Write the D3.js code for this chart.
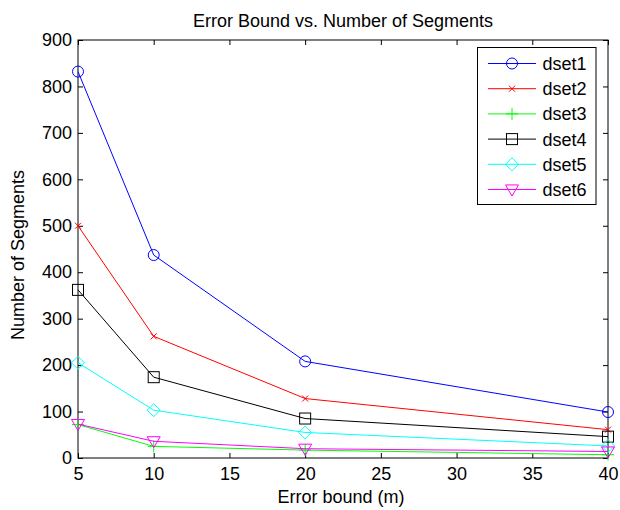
<!DOCTYPE html>
<html>
<head>
<meta charset="utf-8">
<style>
  body { margin: 0; background: #fff; }
  svg { font-family: Arial, 'Liberation Sans', sans-serif; }
  .axis text { font-size: 18px; fill: #000; }
  .axis .domain { display: none; }
  .axis line { stroke: #000; }
</style>
</head>
<body>
<svg width="620" height="510"></svg>
<script src="https://d3js.org/d3.v7.min.js"></script>
<script>
const errorBounds = [5, 10, 20, 40];
const seriesNames = ["dset1", "dset2", "dset3", "dset4", "dset5", "dset6"];
const dset1 = [832, 437, 208, 99];
const dset2 = [500, 262, 128, 61];
const dset3 = [72, 25, 17, 7];
const dset4 = [362, 174, 85, 46];
const dset5 = [205, 103, 55, 26];
const dset6 = [73, 36, 20, 14];
const xTicks = [5, 10, 15, 20, 25, 30, 35, 40];
const yTicks = [0, 100, 200, 300, 400, 500, 600, 700, 800, 900];

const allSeries = [dset1, dset2, dset3, dset4, dset5, dset6];
const colors = ["#0000ff", "#ff0000", "#00ff00", "#000000", "#00ffff", "#ff00ff"];
const markers = ["circle", "x", "plus", "square", "diamond", "tri"];

const margin = { left: 78, right: 12, top: 40, bottom: 52 };
const W = 620, H = 510;

const svg = d3.select("svg");

const x = d3.scaleLinear().domain([5, 40]).range([margin.left, W - margin.right]);
const y = d3.scaleLinear().domain([0, 900]).range([H - margin.bottom, margin.top]);

// box
svg.append("rect")
  .attr("x", x(5)).attr("y", y(900))
  .attr("width", x(40) - x(5)).attr("height", y(0) - y(900))
  .attr("fill", "#fff").attr("stroke", "#000").attr("stroke-width", 1);

// axes with inward ticks
svg.append("g").attr("class", "axis")
  .attr("transform", `translate(0,${y(0)})`)
  .call(d3.axisBottom(x).tickValues(xTicks).tickSize(-5).tickPadding(9).tickFormat(d3.format("d")));
svg.append("g").attr("class", "axis")
  .attr("transform", `translate(0,${y(900)})`)
  .call(d3.axisTop(x).tickValues(xTicks).tickSize(-5).tickFormat(""));
svg.append("g").attr("class", "axis")
  .attr("transform", `translate(${x(5)},0)`)
  .call(d3.axisLeft(y).tickValues(yTicks).tickSize(-5).tickPadding(6).tickFormat(d3.format("d")));
svg.append("g").attr("class", "axis")
  .attr("transform", `translate(${x(40)},0)`)
  .call(d3.axisRight(y).tickValues(yTicks).tickSize(-5).tickFormat(""));

function drawMarker(g, type, cx, cy, color) {
  if (type === "circle") {
    g.append("circle").attr("cx", cx).attr("cy", cy).attr("r", 5.5)
      .attr("fill", "none").attr("stroke", color);
  } else if (type === "x") {
    const s = 3;
    g.append("path").attr("d", `M${cx - s},${cy - s}L${cx + s},${cy + s}M${cx - s},${cy + s}L${cx + s},${cy - s}`)
      .attr("stroke", color).attr("fill", "none");
  } else if (type === "plus") {
    const s = 6;
    g.append("path").attr("d", `M${cx - s},${cy}L${cx + s},${cy}M${cx},${cy - s}L${cx},${cy + s}`)
      .attr("stroke", color).attr("fill", "none");
  } else if (type === "square") {
    const s = 5.5;
    g.append("rect").attr("x", cx - s).attr("y", cy - s).attr("width", 2 * s).attr("height", 2 * s)
      .attr("fill", "none").attr("stroke", color);
  } else if (type === "diamond") {
    const s = 6.5;
    g.append("path").attr("d", `M${cx},${cy - s}L${cx + s},${cy}L${cx},${cy + s}L${cx - s},${cy}Z`)
      .attr("fill", "none").attr("stroke", color);
  } else if (type === "tri") {
    const s = 6.5;
    g.append("path").attr("d", `M${cx - s},${cy - s * 0.7}L${cx + s},${cy - s * 0.7}L${cx},${cy + s}Z`)
      .attr("fill", "none").attr("stroke", color);
  }
}

const line = d3.line().x((d, i) => x(errorBounds[i])).y(d => y(d));

allSeries.forEach((vals, k) => {
  const g = svg.append("g");
  g.append("path").attr("d", line(vals))
    .attr("fill", "none").attr("stroke", colors[k]).attr("stroke-width", 1);
  vals.forEach((v, i) => drawMarker(g, markers[k], x(errorBounds[i]), y(v), colors[k]));
});

// legend
const lg = svg.append("g");
lg.append("rect").attr("x", 477.5).attr("y", 47.5).attr("width", 118.5).attr("height", 157)
  .attr("fill", "#fff").attr("stroke", "#000");
seriesNames.forEach((name, k) => {
  const ly = 63.5 + k * 25.2;
  lg.append("line").attr("x1", 488).attr("x2", 536).attr("y1", ly).attr("y2", ly)
    .attr("stroke", colors[k]);
  drawMarker(lg, markers[k], 512, ly, colors[k]);
  lg.append("text").attr("x", 542.5).attr("y", ly + 6.5).text(name)
    .attr("font-size", "18px").attr("fill", "#000");
});

// title and labels
svg.append("text").attr("x", 343).attr("y", 26.5)
  .attr("text-anchor", "middle").attr("font-size", "18px").text("Error Bound vs. Number of Segments");
svg.append("text").attr("x", 341).attr("y", 503)
  .attr("text-anchor", "middle").attr("font-size", "18px").text("Error bound (m)");
svg.append("text")
  .attr("transform", `translate(24,255) rotate(-90)`)
  .attr("text-anchor", "middle").attr("font-size", "18px").text("Number of Segments");
</script>
</body>
</html>
